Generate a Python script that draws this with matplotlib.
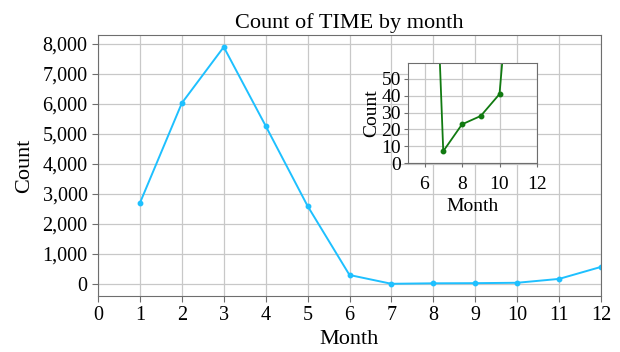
import matplotlib.pyplot as plt
from matplotlib.ticker import FuncFormatter

plt.rcParams["font.family"] = ["Liberation Serif", "DejaVu Serif"]

# monthly counts of TIME
months = [1, 2, 3, 4, 5, 6, 7, 8, 9, 10, 11, 12]
counts = [2700, 6030, 7900, 5270, 2600, 300, 7, 23, 28, 41, 170, 570]

fig = plt.figure(figsize=(6.2, 3.52), dpi=100)
ax = fig.add_axes([98 / 620, 1 - 296 / 352, 503 / 620, 261 / 352])

grid_kw = dict(color="#c8c8c8", linewidth=0.9)
spine_col = "#6e6e6e"

ax.plot(months, counts, color="#1ec0ff", linewidth=1.4, marker="o", markersize=3.2)
ax.set_xlim(0, 12)
ax.set_ylim(-400, 8300)
ax.set_xticks(range(0, 13))
ax.set_yticks(range(0, 8001, 1000))
ax.yaxis.set_major_formatter(FuncFormatter(lambda v, p: f"{int(v):,}"))
ax.grid(True, **grid_kw)
ax.set_axisbelow(True)
for s in ax.spines.values():
    s.set_color(spine_col)
ax.tick_params(labelsize=14.5, color=spine_col, length=4)
ax.set_xlabel("Month", fontsize=16, labelpad=3)
ax.set_ylabel("Count", fontsize=16, labelpad=6)
ax.set_title("Count of TIME by month", fontsize=16, pad=5)

# zoomed view of the summer low
ins = fig.add_axes([408 / 620, 1 - 163 / 352, 129 / 620, 100 / 352])
ins.plot(months, counts, color="#117a11", linewidth=1.3, marker="o", markersize=3.2)
ins.set_xlim(5.12, 12)
ins.set_ylim(0, 59.5)
ins.set_xticks([6, 8, 10, 12])
ins.set_yticks(range(0, 51, 10))
ins.grid(True, **grid_kw)
ins.set_axisbelow(True)
for s in ins.spines.values():
    s.set_color(spine_col)
ins.tick_params(labelsize=14, color=spine_col, length=3, pad=2)
ins.tick_params(axis="x", pad=6)
ins.set_xlabel("Month", fontsize=14, labelpad=4)
ins.set_ylabel("Count", fontsize=14, labelpad=1)

fig.savefig("out.png", dpi=100)
